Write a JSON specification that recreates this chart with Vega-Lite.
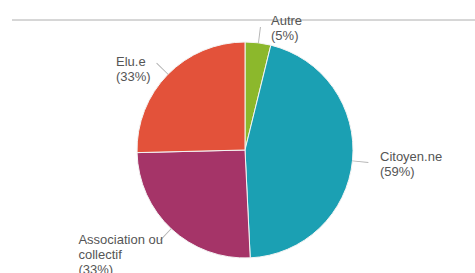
{
  "$schema": "https://vega.github.io/schema/vega-lite/v6.json",
  "width": 466,
  "height": 260,
  "autosize": {"type": "none"},
  "padding": {"left": 12, "top": 20, "right": 0, "bottom": 0},
  "background": "white",
  "config": {"view": {"stroke": null}, "font": "Liberation Sans"},
  "data": {
    "values": [
      {"cat": "Autre", "label": "Autre\n(5%)", "value": 5, "ord": 1},
      {"cat": "Citoyen.ne", "label": "Citoyen.ne\n(59%)", "value": 59, "ord": 2},
      {"cat": "Association ou collectif", "label": "Association ou\ncollectif\n(33%)", "value": 33, "ord": 3},
      {"cat": "Elu.e", "label": "Elu.e\n(33%)", "value": 33, "ord": 4}
    ]
  },
  "transform": [
    {"joinaggregate": [{"op": "sum", "field": "value", "as": "total"}]},
    {"window": [{"op": "sum", "field": "value", "as": "cum"}], "sort": [{"field": "ord"}], "frame": [null, 0]},
    {"calculate": "(datum.cum - datum.value) / datum.total", "as": "start"},
    {"calculate": "datum.cum / datum.total", "as": "end"},
    {"calculate": "(datum.cum - datum.value / 2) / datum.total", "as": "mid"},
    {"calculate": "datum.mid + 0.0013", "as": "mid2"}
  ],
  "layer": [
    {
      "mark": {"type": "rule", "color": "#d4d4d4", "strokeWidth": 1},
      "encoding": {"y": {"value": 0}}
    },
    {
      "mark": {"type": "arc", "outerRadius": 108, "stroke": "#f4f4f4", "strokeWidth": 1},
      "encoding": {
        "theta": {"field": "start", "type": "quantitative", "stack": null, "scale": {"domain": [0, 1], "range": [0, 6.283185307]}},
        "theta2": {"field": "end"},
        "color": {
          "field": "cat",
          "type": "nominal",
          "scale": {
            "domain": ["Autre", "Citoyen.ne", "Association ou collectif", "Elu.e"],
            "range": ["#8cb82c", "#1ba0b3", "#a53468", "#e3523a"]
          },
          "legend": null
        }
      }
    },
    {
      "mark": {"type": "arc", "innerRadius": 108, "outerRadius": 124, "color": "#b4b4b4"},
      "encoding": {
        "theta": {"field": "mid", "type": "quantitative", "stack": null},
        "theta2": {"field": "mid2"}
      }
    },
    {
      "mark": {
        "type": "text",
        "radius": 128,
        "align": "left",
        "baseline": "middle",
        "lineBreak": "\n",
        "lineHeight": 15,
        "fontSize": 13,
        "color": "#555555",
        "dx": {"expr": "datum.cat == 'Autre' ? 10.6 : datum.cat == 'Citoyen.ne' ? 7.6 : datum.cat == 'Elu.e' ? -37.4 : -79.4"},
        "dy": {"expr": "datum.cat == 'Autre' ? -1.9 : datum.cat == 'Citoyen.ne' ? -5.3 : datum.cat == 'Elu.e' ? 1.4 : -3.3"}
      },
      "encoding": {
        "theta": {"field": "mid", "type": "quantitative", "stack": null},
        "text": {"field": "label"}
      }
    }
  ]
}
